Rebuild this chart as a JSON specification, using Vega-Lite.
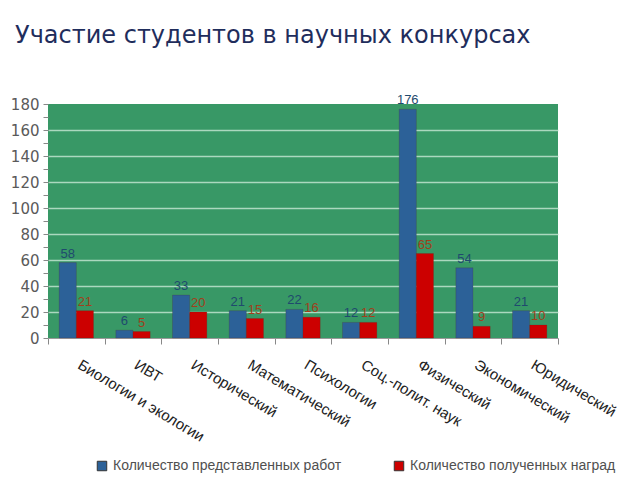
{
  "$schema": "https://vega.github.io/schema/vega-lite/v6.json",
  "width": 510,
  "height": 234,
  "autosize": {"type": "none"},
  "padding": {"left": 48, "top": 104, "right": 82, "bottom": 142},
  "background": "white",
  "title": {
    "text": "Участие студентов в научных конкурсах",
    "anchor": "start",
    "frame": "group",
    "dx": -33,
    "offset": 46,
    "fontSize": 24,
    "font": "DejaVu Sans",
    "fontWeight": "normal",
    "color": "#1f2d5c"
  },
  "config": {
    "view": {"fill": "#389866", "stroke": null},
    "font": "Liberation Sans"
  },
  "data": {
    "values": [
      {"cat": "Биологии и экологии", "series": "Количество представленных работ", "value": 58},
      {"cat": "Биологии и экологии", "series": "Количество полученных наград", "value": 21},
      {"cat": "ИВТ", "series": "Количество представленных работ", "value": 6},
      {"cat": "ИВТ", "series": "Количество полученных наград", "value": 5},
      {"cat": "Исторический", "series": "Количество представленных работ", "value": 33},
      {"cat": "Исторический", "series": "Количество полученных наград", "value": 20},
      {"cat": "Математический", "series": "Количество представленных работ", "value": 21},
      {"cat": "Математический", "series": "Количество полученных наград", "value": 15},
      {"cat": "Психологии", "series": "Количество представленных работ", "value": 22},
      {"cat": "Психологии", "series": "Количество полученных наград", "value": 16},
      {"cat": "Соц.-полит. наук", "series": "Количество представленных работ", "value": 12},
      {"cat": "Соц.-полит. наук", "series": "Количество полученных наград", "value": 12},
      {"cat": "Физический", "series": "Количество представленных работ", "value": 176},
      {"cat": "Физический", "series": "Количество полученных наград", "value": 65},
      {"cat": "Экономический", "series": "Количество представленных работ", "value": 54},
      {"cat": "Экономический", "series": "Количество полученных наград", "value": 9},
      {"cat": "Юридический", "series": "Количество представленных работ", "value": 21},
      {"cat": "Юридический", "series": "Количество полученных наград", "value": 10}
    ]
  },
  "encoding": {
    "x": {
      "field": "cat",
      "type": "nominal",
      "sort": null,
      "title": null,
      "scale": {"paddingInner": 0, "paddingOuter": 0},
      "axis": {
        "labelAngle": 31,
        "labelAlign": "left",
        "labelBaseline": "top",
        "labelFontSize": 15,
        "labelColor": "#222222",
        "labelPadding": 13,
        "labelOffset": 6,
        "tickBand": "extent",
        "tickSize": 6,
        "tickColor": "#888888",
        "domainColor": "#999999",
        "grid": false,
        "labelLimit": 300
      }
    },
    "xOffset": {
      "field": "series",
      "sort": null,
      "scale": {"paddingInner": 0, "paddingOuter": 0.65}
    },
    "y": {
      "field": "value",
      "type": "quantitative",
      "title": null,
      "scale": {"domain": [0, 180], "nice": false},
      "axis": {
        "values": [0, 10, 20, 30, 40, 50, 60, 70, 80, 90, 100, 110, 120, 130, 140, 150, 160, 170, 180],
        "labelExpr": "datum.value % 20 == 0 ? datum.label : ''",
        "labelFontSize": 15,
        "labelFont": "DejaVu Sans",
        "labelColor": "#5a5a5a",
        "labelPadding": 4,
        "tickSize": 5,
        "tickColor": "#888888",
        "domain": false,
        "gridColor": "#bfe3cf",
        "gridWidth": 1.5,
        "gridOpacity": {"condition": {"test": "datum.value % 20 == 0 && datum.value > 0 && datum.value < 180", "value": 0.85}, "value": 0}
      }
    }
  },
  "layer": [
    {
      "mark": {"type": "bar", "stroke": "#5a2020", "strokeWidth": 0.5, "strokeOpacity": 0.4},
      "encoding": {
        "color": {
          "field": "series",
          "type": "nominal",
          "sort": null,
          "scale": {"range": ["#2c6198", "#cc0000"]},
          "legend": {
            "orient": "none",
            "legendX": 47,
            "legendY": 355,
            "direction": "horizontal",
            "columns": 2,
            "columnPadding": 50,
            "title": null,
            "symbolType": "square",
            "symbolSize": 90,
            "symbolStrokeColor": "#333333",
            "symbolStrokeWidth": 1,
            "labelFontSize": 14,
            "labelColor": "#505050",
            "labelLimit": 320
          }
        }
      }
    },
    {
      "mark": {"type": "text", "dy": -9, "fontSize": 13},
      "encoding": {
        "text": {"field": "value", "type": "quantitative"},
        "fill": {
          "field": "series",
          "type": "nominal",
          "sort": null,
          "scale": {"range": ["#1f4a6e", "#a0401c"]},
          "legend": null
        }
      }
    }
  ]
}
